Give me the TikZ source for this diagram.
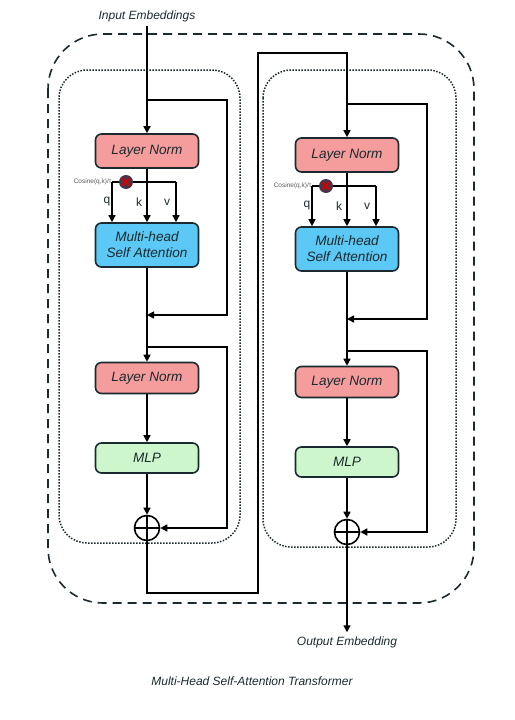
\documentclass[tikz,border=0pt]{standalone}
\usepackage{fontspec}
\setmainfont{Liberation Sans}
\usetikzlibrary{arrows.meta}
\definecolor{edge}{HTML}{1B2A2E}
\definecolor{lnpink}{HTML}{F59C9C}
\definecolor{attblue}{HTML}{5CC8F5}
\definecolor{mlpgreen}{HTML}{CDF6CD}
\definecolor{cosdark}{HTML}{4A3346}
\begin{document}
\begin{tikzpicture}[x=1pt,y=-1pt,line width=1.6pt,
	block/.style={draw=edge,rounded corners=6pt,minimum width=103pt,inner sep=0pt,align=center,text=edge,font=\fontsize{13.6}{16}\selectfont\itshape},
	arr/.style={-{Triangle[length=7pt,width=7pt]}},
	tag/.style={font=\fontsize{12}{14}\selectfont\itshape,text=edge}]
	\useasboundingbox (0,0) rectangle (514,720);
	\draw [draw=edge,dash pattern=on 9pt off 6pt,rounded corners=55pt] (48,34) rectangle (474,603);
	\foreach \c/\x/\d/\l/\r in {1/147/0/59/240,2/347/4/263/456}{
		\draw [draw=edge,line width=1.5pt,dash pattern=on 1.5pt off 1.5pt,rounded corners=28pt] (\l,70) rectangle (\r,543+\d);
		\node [block,fill=lnpink,minimum height=34pt] at (\x,151+\d) (ln1 \c) {Layer Norm};
		\node [block,fill=attblue,minimum height=44pt] at (\x,245+\d) (att \c) {Multi-head\\Self Attention};
		\node [block,fill=lnpink,minimum height=31pt] at (\x,378+\d) (ln2 \c) {Layer Norm};
		\node [block,fill=mlpgreen,minimum height=30pt] at (\x,458+\d) (mlp \c) {MLP};
		\node [circle,draw,minimum size=25pt,inner sep=0pt,path picture={
			\draw (path picture bounding box.north) -- (path picture bounding box.south)
				(path picture bounding box.west) -- (path picture bounding box.east);}] at (\x,528+\d) (add \c) {};
		\coordinate (top \c) at (\x,100+\d);
		\coordinate (skip1 \c) at (\x+80,100+\d);
		\coordinate (res1 \c) at (\x,315+\d);
		\coordinate (br2 \c) at (\x,347+\d);
		\coordinate (skip2 \c) at (\x+80,347+\d);
		\coordinate (q \c) at (\x-35,182+\d);
		\coordinate (v \c) at (\x+29,182+\d);
		
		\draw [arr] (ln1 \c) -- (att \c);
		\draw (q \c) -- (v \c);
		\draw [arr] (q \c) -- (q \c |- att \c.north);
		\draw [arr] (v \c) -- (v \c |- att \c.north);
		\node [circle,fill=cosdark,minimum size=14pt,inner sep=0pt,path picture={
			\draw [red!85!black,line width=1.8pt]
				([xshift=-3.5pt,yshift=-3.5pt]path picture bounding box.center) -- ([xshift=3.5pt,yshift=3.5pt]path picture bounding box.center)
				([xshift=-3.5pt,yshift=3.5pt]path picture bounding box.center) -- ([xshift=3.5pt,yshift=-3.5pt]path picture bounding box.center);}] at (\x-21,182+\d) (cos \c) {};
		\node [anchor=east,inner sep=0pt,text=gray!70!black,font=\fontsize{6.5}{7}\selectfont] at ([xshift=-6pt]cos \c.west) (cos label \c) {Cosine(q,k)/τ};
		\node [font=\fontsize{12}{14}\selectfont,text=edge] at (\x-40,202+\d) (q label \c) {q};
		\node [font=\fontsize{12}{14}\selectfont,text=edge] at (\x-8,202+\d) (k label \c) {k};
		\node [font=\fontsize{12}{14}\selectfont,text=edge] at (\x+20,202+\d) (v label \c) {v};
		
		\draw [arr] (att \c) -- (ln2 \c);
		\draw [arr] (top \c) -- (skip1 \c) |- (res1 \c);
		\draw [arr] (br2 \c) -- (skip2 \c) |- (add \c.east);
		\draw [arr] (ln2 \c) -- (mlp \c);
		\draw [arr] (mlp \c) -- (add \c);
	}
	
	\node [tag] at (147,16) (inp) {Input Embeddings};
	\draw [arr] (inp) -- (ln1 1);
	
	\coordinate (up1) at (258,593);
	\coordinate (in2) at (347,53);
	\draw [arr] (add 1) |- (up1) |- (in2) -- (ln1 2);
	
	\node [tag] at (347,642) (outp) {Output Embedding};
	\draw [arr] (add 2) -- (outp);
	
	\node [tag] at (252,681) (title) {Multi-Head Self-Attention Transformer};
\end{tikzpicture}
\end{document}
